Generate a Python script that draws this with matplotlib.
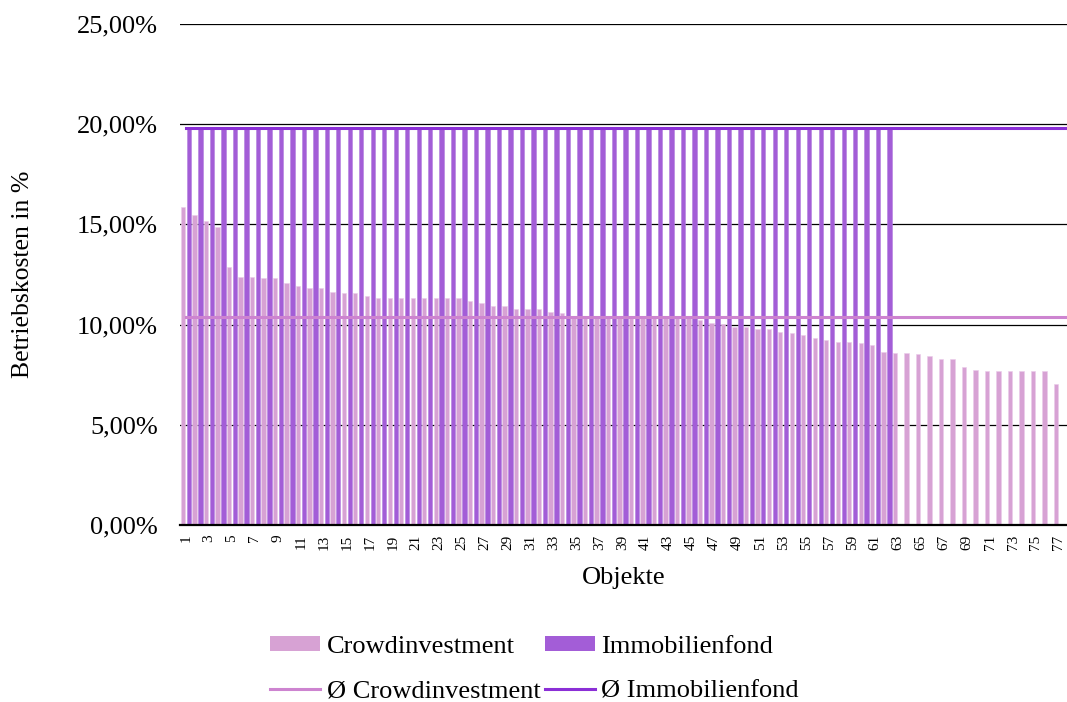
import numpy as np
import matplotlib
matplotlib.use("Agg")
import matplotlib.pyplot as plt
from matplotlib.patches import Patch
from matplotlib.lines import Line2D

plt.rcParams["font.family"] = ["Liberation Serif", "DejaVu Serif"]

# --- Data: operating costs per object (in %) ---
objects = np.arange(1, 78)
crowd = [
    15.87, 15.48, 15.18, 14.88, 12.88, 12.38, 12.37, 12.34, 12.34, 12.08,
    11.95, 11.83, 11.83, 11.63, 11.60, 11.57, 11.43, 11.32, 11.32, 11.32,
    11.32, 11.32, 11.32, 11.32, 11.32, 11.17, 11.08, 10.92, 10.92, 10.80,
    10.80, 10.80, 10.63, 10.58, 10.45, 10.42, 10.42, 10.41, 10.40, 10.40,
    10.40, 10.39, 10.38, 10.37, 10.36, 10.23, 10.07, 10.02, 9.90, 9.87,
    9.77, 9.77, 9.64, 9.57, 9.49, 9.32, 9.25, 9.12, 9.12, 9.07,
    8.99, 8.62, 8.59, 8.57, 8.55, 8.42, 8.29, 8.29, 7.87, 7.74,
    7.70, 7.70, 7.70, 7.70, 7.70, 7.70, 7.04,
]
fund = [19.8] * 62
crowd_avg = 10.38
fund_avg = 19.8
y_ticks = [0, 5, 10, 15, 20, 25]
y_tick_labels = ["0,00%", "5,00%", "10,00%", "15,00%", "20,00%", "25,00%"]

c_crowd = "#D7A2D4"
c_fund = "#A35DD7"
c_crowd_avg = "#CD84D0"
c_fund_avg = "#8B2FD6"

fig = plt.figure(figsize=(10.67, 7.02), dpi=100)
ax = fig.add_axes([180 / 1067, 1 - 525 / 702, 887 / 1067, 501 / 702])

bw = 0.38
off = 0.26
ax.bar(objects - off, crowd, width=bw, color=c_crowd,
       edgecolor="#EBCBEA", linewidth=0.4, zorder=2)
ax.bar(objects[:len(fund)] + off, fund, width=bw, color=c_fund,
       edgecolor="#B37FDE", linewidth=0.4, zorder=2)

x_end = 77.7
ax.plot([1, x_end], [crowd_avg, crowd_avg], color=c_crowd_avg, lw=2.2, zorder=3)
ax.plot([1, x_end], [fund_avg, fund_avg], color=c_fund_avg, lw=2.2, zorder=3)

ax.set_xlim(0.478, x_end)
ax.set_ylim(0, 25)
ax.set_yticks(y_ticks)
ax.set_yticklabels(y_tick_labels, fontsize=19)
ax.set_xticks(objects[::2])
ax.set_xticklabels([str(o) for o in objects[::2]], rotation=90, fontsize=11)
ax.tick_params(axis="y", length=0, pad=16)
ax.tick_params(axis="x", length=0, pad=7)

ax.yaxis.grid(True, color="black", lw=0.9, zorder=0)
ax.set_axisbelow(True)
for side in ("left", "right", "top"):
    ax.spines[side].set_visible(False)
ax.spines["bottom"].set_linewidth(1.6)
ax.spines["bottom"].set_zorder(4)

ax.set_ylabel("Betriebskosten in %", fontsize=18.5, labelpad=31)
ax.set_xlabel("Objekte", fontsize=19, labelpad=12)

handles = [
    Patch(facecolor=c_crowd, edgecolor="none"),
    Line2D([], [], color=c_crowd_avg, lw=2.2),
    Patch(facecolor=c_fund, edgecolor="none"),
    Line2D([], [], color=c_fund_avg, lw=2.2),
]
labels = ["Crowdinvestment", "Ø Crowdinvestment", "Immobilienfond", "Ø Immobilienfond"]
fig.legend(handles, labels, loc="center", bbox_to_anchor=(0.501, 0.047),
           ncol=2, frameon=False, fontsize=19, handlelength=1.9,
           handleheight=0.55, handletextpad=0.25, columnspacing=0.15,
           labelspacing=0.85, borderpad=0)

fig.savefig("out.png", dpi=100)
